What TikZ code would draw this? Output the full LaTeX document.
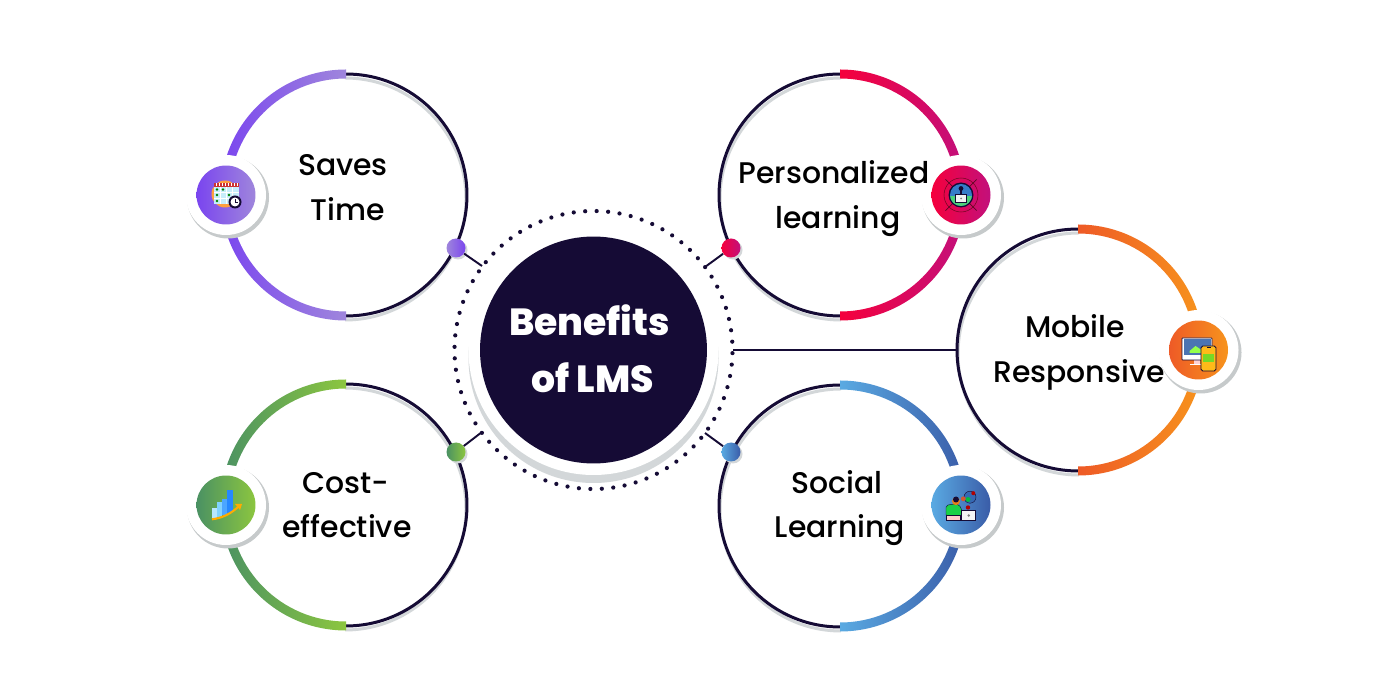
\documentclass[tikz,border=0pt]{standalone}
\usepackage{fontspec}
\setmainfont{Poppins}
\newfontfamily\lblfont{Poppins Medium}
\newfontfamily\hubfont{Poppins ExtraBold}
\usetikzlibrary{calc}
\definecolor{ink}{HTML}{150B35}
\definecolor{halo}{HTML}{D3D7D9}
\definecolor{pa}{HTML}{7A45EF}\definecolor{pb}{HTML}{9F86DC}
\definecolor{ra}{HTML}{F5003C}\definecolor{rb}{HTML}{C2107C}
\definecolor{oa}{HTML}{EE5A26}\definecolor{ob}{HTML}{F7941D}
\definecolor{ba}{HTML}{5AAAE2}\definecolor{bb}{HTML}{3A5CA8}
\definecolor{ga}{HTML}{4A9163}\definecolor{gb}{HTML}{8CC63F}
\tikzset{
  x=0.02cm,y=0.02cm,
  thinring/.style={circle,draw=ink,line width=1.7pt,minimum size=4.84cm,inner sep=0pt},
  lbl/.style={anchor=base,font=\lblfont\fontsize{17}{20}\selectfont,text=black,inner sep=0pt},
  hubtxt/.style={anchor=base,font=\hubfont\fontsize{21.5}{24}\selectfont,text=white,inner sep=0pt},
  ball/.style={circle,inner sep=0pt,minimum size=0.38cm},
  badge/.style={circle,inner sep=0pt,minimum size=1.18cm},
  wire/.style={draw=ink,line width=1.1pt}
}
% #1 cx, #2 cy, #3 start, #4 end, #5 left colour, #6 right colour
\newcommand{\thickarc}[6]{%
  \shade[left color=#5,right color=#6]
    ([shift={(#1,#2)}]#3:125.5) arc[start angle=#3,end angle=#4,radius=125.5]
    -- ([shift={(#1,#2)}]#4:116.5) arc[start angle=#4,end angle=#3,radius=116.5] -- cycle;}
\newcommand{\greyarc}[4]{%
  \draw[halo,line width=1.7pt] ([shift={(#1,#2)}]#3:121) arc[start angle=#3,end angle=#4,radius=121];}
\newcommand{\plate}[2]{%
  \fill[halo!85!gray] (#1+2,#2-2.5) circle[radius=41];
  \fill[white] (#1,#2) circle[radius=40];}
\begin{document}
\begin{tikzpicture}
\useasboundingbox (0,0) rectangle (1400,700);
\fill[white] (0,0) rectangle (1400,700);

% grey shadows of the rings
\greyarc{345}{501}{90}{-90}
\greyarc{841}{501}{90}{270}
\greyarc{1079}{346}{90}{270}
\greyarc{841}{190}{90}{270}
\greyarc{345}{191}{90}{-90}

% free ends of connectors
\coordinate (e1) at (482,434);
\coordinate (e2) at (705,433);
\coordinate (e3) at (733,350);
\coordinate (e4) at (705,267);
\coordinate (e5) at (482,268);

% rings
\node[thinring] (r1) at (346,505) {};
\node[thinring] (r2) at (840,505) {};
\node[thinring] (r3) at (1078,350) {};
\node[thinring] (r4) at (840,194) {};
\node[thinring] (r5) at (346,195) {};

% thick arcs
\thickarc{346}{505}{90}{180}{pa}{pb}
\thickarc{346}{505}{180}{270}{pa}{pb}
\thickarc{840}{505}{90}{0}{ra}{rb}
\thickarc{840}{505}{0}{-90}{ra}{rb}
\thickarc{1078}{350}{90}{0}{oa}{ob}
\thickarc{1078}{350}{0}{-90}{oa}{ob}
\thickarc{840}{194}{90}{0}{ba}{bb}
\thickarc{840}{194}{0}{-90}{ba}{bb}
\thickarc{346}{195}{90}{180}{ga}{gb}
\thickarc{346}{195}{180}{270}{ga}{gb}

% hub
\fill[halo] (593.5,342) circle[radius=125];
\fill[white] (593.5,350) circle[radius=125];
\node[circle,fill=ink,inner sep=0pt,minimum size=4.54cm] (hub) at (593.5,350) {};
\foreach \i in {0,...,75} \fill[ink] ({593.5+139*cos(88.7+\i*4.73684)},{350+139*sin(88.7+\i*4.73684)}) circle[radius=2.1];

% wires and balls
\fill[halo] (458,450) circle[radius=9.5];
\fill[halo] (733,450) circle[radius=9.5];
\fill[halo] (733,246) circle[radius=9.5];
\fill[halo] (458,246) circle[radius=9.5];
\node[ball,left color=pb,right color=pa] (b1) at (456,452) {};
\node[ball,left color=ra,right color=rb] (b2) at (731,452) {};
\node[ball,left color=ga,right color=gb] (b5) at (456,248) {};
\node[ball,left color=ba,right color=bb] (b4) at (731,248) {};
\draw[wire] (b1) -- (e1);
\draw[wire] (b2) -- (e2);
\draw[wire] (r3) -- (e3);
\draw[wire] (b4) -- (e4);
\draw[wire] (b5) -- (e5);

% badges
\plate{226}{505}
\plate{961}{505}
\plate{1198.5}{350}
\plate{961}{195}
\plate{226}{195}
\node[badge,left color=pa,right color=pb] (i1) at (226,505) {};
\node[badge,left color=ra,right color=rb] (i2) at (961,505) {};
\node[badge,left color=oa,right color=ob] (i3) at (1198.5,350) {};
\node[badge,left color=ba,right color=bb] (i4) at (961,195) {};
\node[badge,left color=ga,right color=gb] (i5) at (226,195) {};

% calendar icon
\begin{scope}[shift={(226,505)}]
  \fill[orange!75!white] (-1,1) circle[radius=13.5];
  \fill[cyan!22!white] (-12,-9) rectangle (13,11);
  \fill[red!75!black!80!white] (-12,8) rectangle (13,12);
  \foreach \x in {-10,-7,...,11} \draw[white,line width=0.3pt] (\x,9) -- (\x,12);
  \foreach \x in {-6,0,6} \draw[white,line width=0.5pt] (\x,-9) -- (\x,8);
  \foreach \y in {-3,3} \draw[white,line width=0.5pt] (-12,\y) -- (13,\y);
  \foreach \p in {(-9,5.5),(-3,5.5),(-9,0),(3,0),(-9,-6)} \fill[green!50!black] \p circle[radius=1.3];
  \fill[ink] (9,-7) circle[radius=6.5];
  \fill[white] (9,-7) circle[radius=4.5];
  \draw[ink,line width=0.5pt] (9,-4) -- (9,-7) -- (12,-7);
\end{scope}

% person at screen icon
\begin{scope}[shift={(961,505)}]
  \draw[ink!60!red,line width=0.3pt] (0,0) circle[radius=17];
  \foreach \a in {45,135,225,315} {
    \draw[ink!70!red,line width=0.4pt] (\a:12) -- (\a:22);
  }
  \fill[ink] (0,0) circle[radius=12.5];
  \fill[cyan!50!blue!85!white] (0,0) circle[radius=11];
  \begin{scope}
    \clip (0,0) circle[radius=11];
    \fill[green!50!teal!70!white] (-12,-12) rectangle (12,-1);
  \end{scope}
  \fill[white!90!gray,draw=ink,line width=0.25pt] (-5.5,-7.5) rectangle (5.5,0.5);
  \fill[gray] (0,-3.5) circle[radius=1];
  \fill[ink] (0,6.5) circle[radius=2.4];
  \fill[ink] (-1.2,0.5) rectangle (1.2,5);
\end{scope}

% devices icon
\begin{scope}[shift={(1198.5,350)}]
  \fill[pink!70!white] (-5,-10) rectangle (1,-15);
  \fill[white] (-9,-14) rectangle (3,-15.5);
  \fill[white,draw=ink,line width=0.4pt,rounded corners=0.4pt] (-16.5,-10) rectangle (13.5,12);
  \fill[cyan!45!blue!70!gray] (-15,-5) rectangle (12,10.5);
  \fill[green!60!yellow!70!white] (-9,-1) -- (-3,4) -- (3,0) -- (3,-3) -- (-9,-3) -- cycle;
  \fill[orange!60!yellow!90!white,draw=ink,line width=0.5pt,rounded corners=1pt] (2.5,-21) rectangle (17.5,4);
  \fill[green!55!yellow!70!gray] (4.5,-12) rectangle (15.5,-4);
  \fill[ink] (8,1.5) rectangle (12,2.5);
\end{scope}

% social icon
\begin{scope}[shift={(961,194.5)}]
  \fill[green!60!teal!90!white,draw=ink,line width=0.25pt,rounded corners=1pt] (-15,-11) -- (-15,0) -- (-8,1.5) -- (-2,1) -- (1,-5) -- (1,-11) -- cycle;
  \fill[pink!80!white,draw=ink,line width=0.25pt] (-14.5,-14.5) rectangle (-1,-10);
  \fill[orange!60!brown] (-5,4.3) circle[radius=4];
  \fill[ink] (-5,6) circle[radius=3];
  \fill[white!92!gray,draw=ink,line width=0.25pt] (0.7,-14.5) rectangle (14.7,-5);
  \fill[gray] (7.7,-10) circle[radius=1.4];
  \fill[cyan!40!blue!85!gray] (9,8.3) circle[radius=6];
  \fill[green!50!teal] (7,6) circle[radius=2.5];
  \draw[ink,line width=0.25pt] (9,8.3) circle[radius=6];
  \fill[brown!70!red] (2.3,6.7) circle[radius=2.4];
  \fill[red!70!black] (12.3,12.3) circle[radius=2];
  \fill[red!70!black] (7,-2) circle[radius=2.2];
\end{scope}

% chart icon
\begin{scope}[shift={(226,195)}]
  \fill[blue!35!cyan!28!white] (-14.3,-13.3) rectangle (-8.7,-2.7);
  \fill[blue!35!cyan!50!white] (-8.7,-12) rectangle (-3.7,3.3);
  \fill[blue!50!cyan!70!white] (-3.7,-10) rectangle (1,6);
  \fill[blue!55!cyan!85!white] (1,-8.3) rectangle (6.7,15);
  \draw[orange!65!yellow,line width=1.2pt] (-14,-14.3) .. controls (-3,-13) and (6,-8) .. (13,-1);
  \fill[orange!65!yellow] (16,1) -- (9,1) -- (14,-5) -- cycle;
\end{scope}

% labels
\node[lbl] (t1) at (343,524) {Saves};
\node[lbl] (t2) at (348,479.5) {Time};
\node[lbl] (t3) at (834,516) {Personalized};
\node[lbl] (t4) at (838,471) {learning};
\node[lbl] (t5) at (1075,362) {Mobile};
\node[lbl] (t6) at (1079,317) {Responsive};
\node[lbl] (t7) at (837,206) {Social};
\node[lbl] (t8) at (840,162) {Learning};
\node[lbl] (t9) at (346,206) {Cost-};
\node[lbl] (t10) at (347,162) {effective};
\node[hubtxt] (h1) at (589.5,364) {Benefits};
\node[hubtxt] (h2) at (592.5,307) {of LMS};
\end{tikzpicture}
\end{document}
